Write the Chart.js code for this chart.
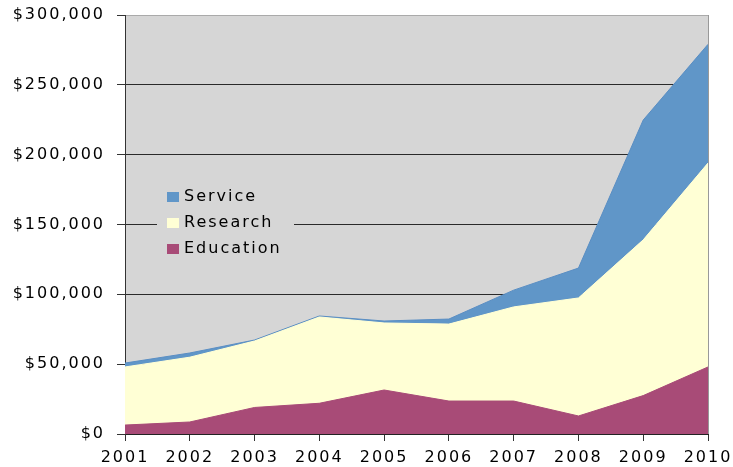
<!DOCTYPE html>
<html>
<head>
<meta charset="utf-8">
<script src="https://cdn.jsdelivr.net/npm/chart.js@4"></script>
<style>
  body { margin: 0; background: #fff; }
</style>
</head>
<body>
<canvas id="myChart" width="733" height="467"></canvas>
<script>
var years = ["2001", "2002", "2003", "2004", "2005", "2006", "2007", "2008", "2009", "2010"];
var education = [6400, 8600, 19000, 22000, 31500, 23600, 23600, 12900, 27500, 48000];
var research = [41600, 46400, 47600, 61800, 48000, 55100, 67400, 84500, 111500, 146000];
var service = [2800, 3000, 700, 700, 1400, 3600, 12000, 21400, 85800, 85000];
var yTicks = [0, 50000, 100000, 150000, 200000, 250000, 300000];

var fillColors = {
  education: "rgb(168, 75, 119)",
  research: "rgb(255, 255, 213)",
  service: "rgb(96, 150, 200)"
};

Chart.defaults.font.family = "'DejaVu Sans', Verdana, sans-serif";
Chart.defaults.font.size = 16;
Chart.defaults.color = "#000";

// grå bakgrunn i plottet, høyre kant og spacing på teksten
var plotBg = {
  id: "plotBg",
  beforeDraw: function (chart) {
    var ctx = chart.ctx, a = chart.chartArea;
    ctx.letterSpacing = "2px";
    ctx.save();
    ctx.fillStyle = "#d6d6d6";
    ctx.fillRect(a.left, a.top, a.right - a.left, a.bottom - a.top);
    ctx.restore();
  },
  afterDraw: function (chart) {
    var ctx = chart.ctx, a = chart.chartArea;
    ctx.save();
    ctx.strokeStyle = "#999";
    ctx.lineWidth = 1;
    ctx.beginPath();
    ctx.moveTo(a.right + 0.5, a.top);
    ctx.lineTo(a.right + 0.5, a.bottom);
    ctx.stroke();
    ctx.restore();
  }
};

// legenden ligger inne i plottet
var innerLegend = {
  id: "innerLegend",
  afterDraw: function (chart) {
    var ctx = chart.ctx;
    var items = chart.data.datasets.slice().reverse();
    ctx.save();
    ctx.letterSpacing = "2px";
    ctx.fillStyle = "#d6d6d6";
    ctx.fillRect(157, 183, 137, 80);
    ctx.font = "16px 'DejaVu Sans', Verdana, sans-serif";
    ctx.textBaseline = "middle";
    items.forEach(function (ds, i) {
      var y = 197 + i * 26;
      ctx.fillStyle = ds.backgroundColor;
      ctx.fillRect(167, y - 5, 12, 10);
      ctx.fillStyle = "#000";
      ctx.fillText(ds.label, 184, y);
    });
    ctx.restore();
  }
};

new Chart("myChart", {
  type: "line",
  data: {
    labels: years,
    datasets: [
      { label: "Education", data: education, backgroundColor: fillColors.education, borderColor: fillColors.education, fill: "origin" },
      { label: "Research", data: research, backgroundColor: fillColors.research, borderColor: fillColors.research, fill: "-1" },
      { label: "Service", data: service, backgroundColor: fillColors.service, borderColor: "rgb(90, 142, 195)", fill: "-1" }
    ]
  },
  options: {
    responsive: false,
    animation: false,
    layout: { padding: { top: 15, right: 25, left: 0, bottom: 0 } },
    elements: {
      point: { radius: 0 },
      line: { borderWidth: 1, tension: 0 }
    },
    plugins: {
      legend: { display: false },
      tooltip: { enabled: false }
    },
    scales: {
      x: {
        offset: false,
        grid: { drawOnChartArea: false, drawTicks: true, tickLength: 7, color: "#333" },
        border: { color: "#222" },
        ticks: { padding: 7, maxRotation: 0, autoSkip: false },
        afterFit: function (s) { s.height = 33; s.paddingLeft = 0; s.paddingRight = 0; }
      },
      y: {
        stacked: true,
        min: 0,
        max: 300000,
        afterBuildTicks: function (s) { s.ticks = yTicks.map(function (v) { return { value: v }; }); },
        grid: {
          color: function (c) { return c.tick && c.tick.value === 300000 ? "#aaa" : "#2a2a2a"; },
          tickColor: "#333",
          tickLength: 8
        },
        border: { color: "#333" },
        ticks: {
          padding: 12,
          callback: function (v) { return "$" + v.toLocaleString("en-US"); }
        },
        afterFit: function (s) { s.width = 125; s.paddingTop = 0; s.paddingBottom = 0; }
      }
    }
  },
  plugins: [plotBg, innerLegend]
});
</script>
</body>
</html>
